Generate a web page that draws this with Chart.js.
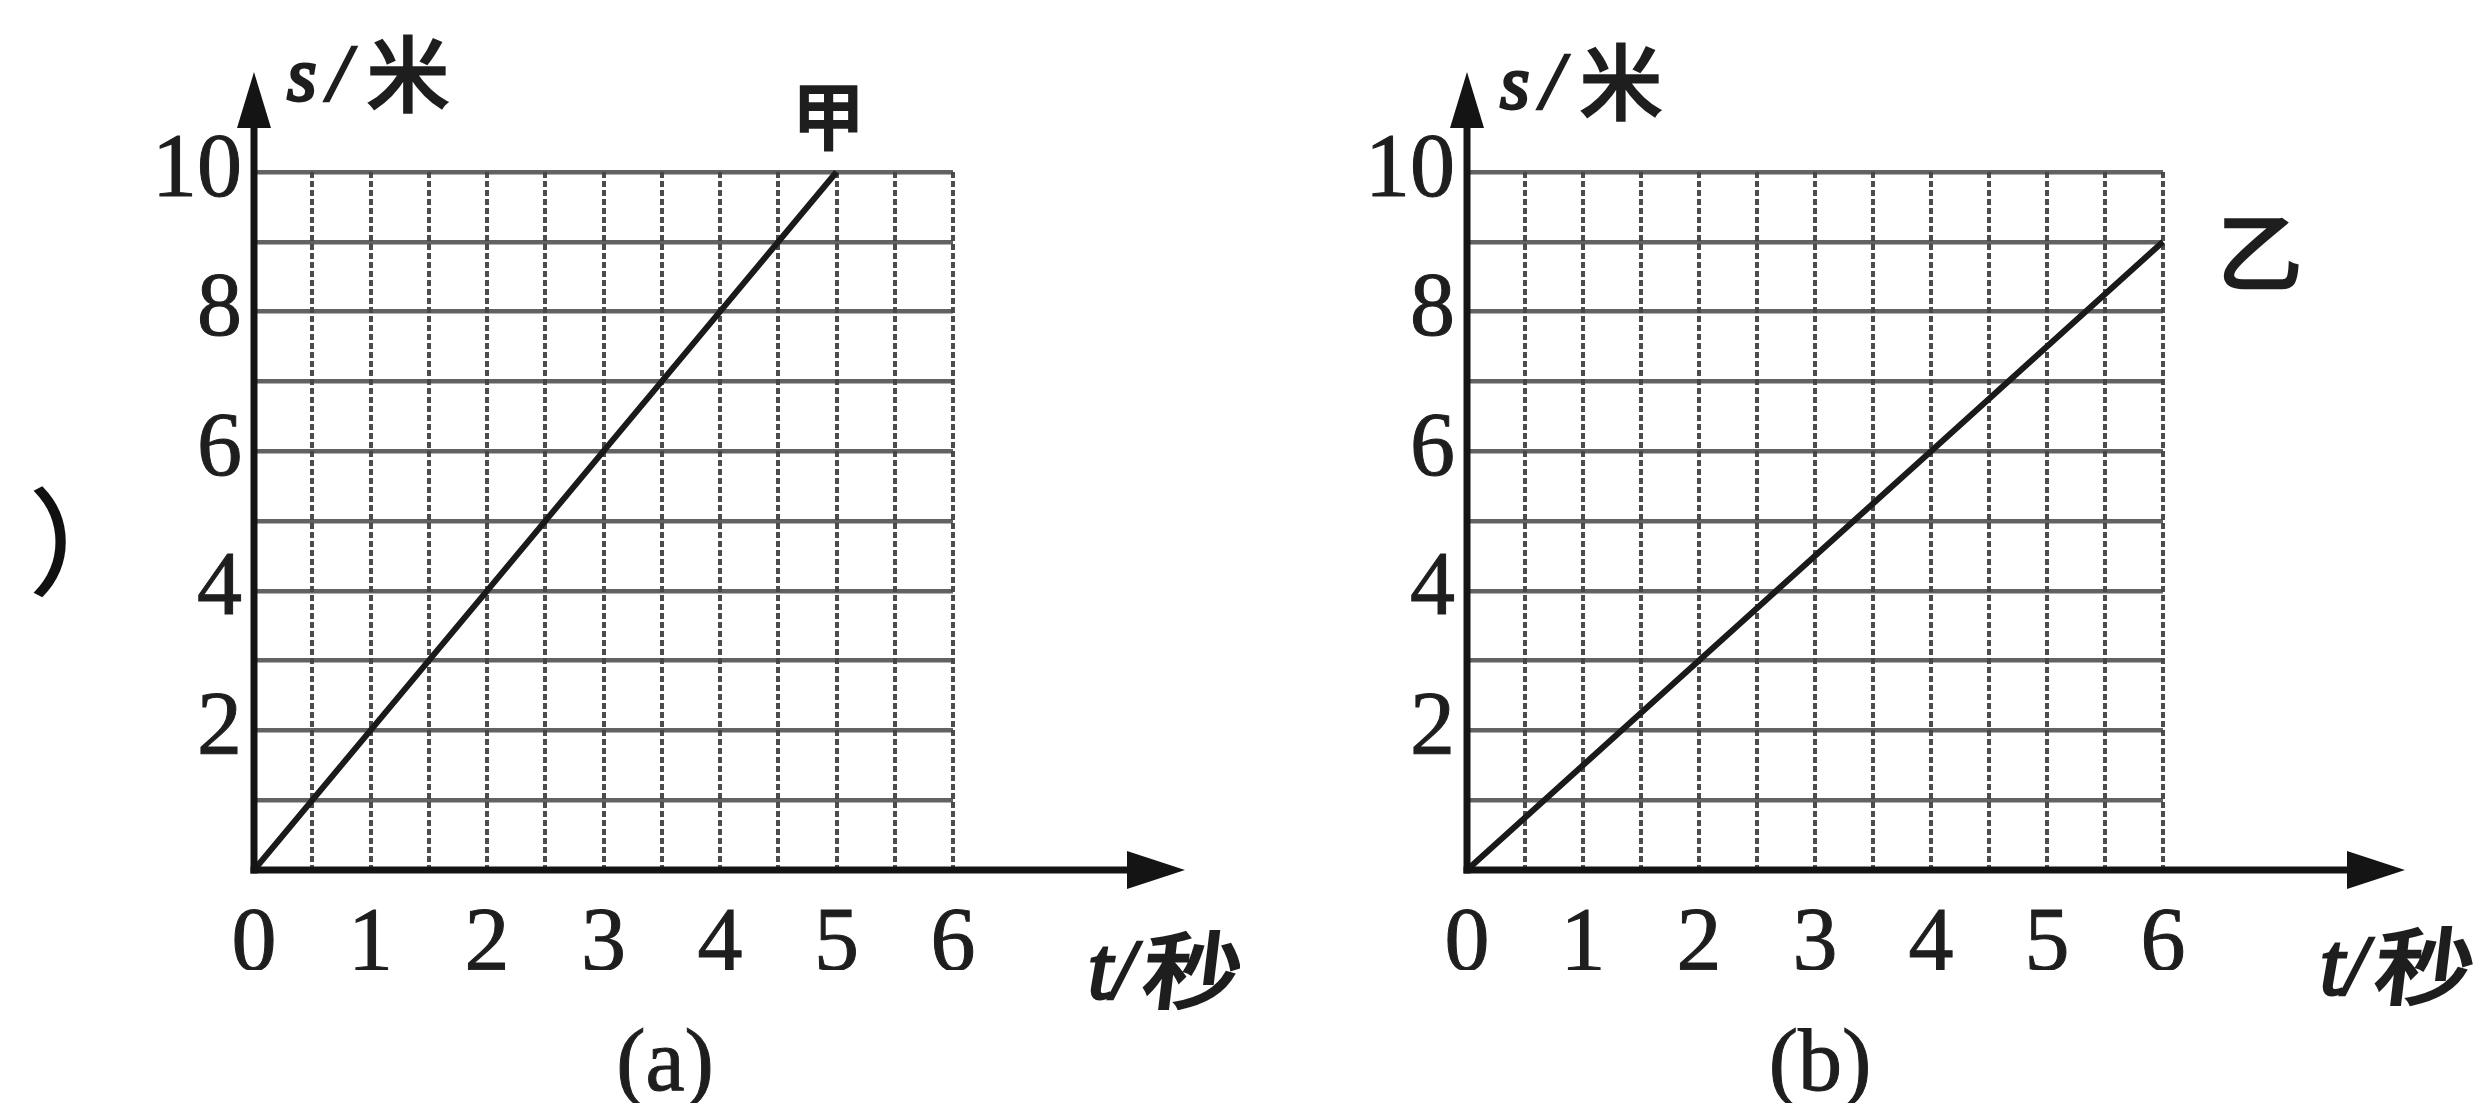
<!DOCTYPE html>
<html><head><meta charset="utf-8">
<script src="https://cdn.jsdelivr.net/npm/chart.js@4.4.1/dist/chart.umd.min.js"></script>
<style>
html,body{margin:0;padding:0;background:#fff;width:2477px;height:1103px;overflow:hidden;}
canvas{position:absolute;top:0;}
#ca{left:0}
#cb{left:1240px}
</style></head><body>
<canvas id="ca" width="1240" height="1103"></canvas>
<canvas id="cb" width="1237" height="1103"></canvas>
<script>
// ---- data ----
const timeA = [0, 1, 2, 3, 4, 5];          // t (秒) for 甲
const distA = [0, 2, 4, 6, 8, 10];         // s (米) for 甲
const timeB = [0, 2, 4, 6];                // t (秒) for 乙
const distB = [0, 3, 6, 9];                // s (米) for 乙
const xTickLabels = ['0', '1', '2', '3', '4', '5', '6'];
const yTickLabels = ['2', '4', '6', '8', '10'];
const xRange = [0, 6];
const yRange = [0, 10];
const xGridStep = 0.5;
const yGridStep = 1;
const seriesNames = ['甲', '乙'];
const captions = ['(a)', '(b)'];
const yTitleParts = ['s', '/', '米'];
const xTitleParts = ['t', '/', '秒'];

const INK = '#1e1e1e';
const SERIF = "'Liberation Serif', 'DejaVu Serif', serif";
const CJK = "'Noto Sans CJK SC', sans-serif";

function heavyText(ctx, txt, x, y, w) {
  ctx.lineWidth = w;
  ctx.lineJoin = 'miter';
  ctx.strokeText(txt, x, y);
  ctx.fillText(txt, x, y);
}

const decor = {
  id: 'decor',
  afterDraw(chart, args, o) {
    const ctx = chart.ctx;
    const xs = chart.scales.x, ys = chart.scales.y;
    const ca = chart.chartArea;
    const x0 = xs.getPixelForValue(xRange[0]);
    const y0 = ys.getPixelForValue(yRange[0]);
    ctx.save();
    ctx.strokeStyle = '#141414';
    ctx.fillStyle = '#141414';
    ctx.lineWidth = 7;
    ctx.lineCap = 'butt';
    // y axis with arrow
    const yTip = ca.top - o.yArrowAbove;
    ctx.beginPath(); ctx.moveTo(x0, y0 + 3.5); ctx.lineTo(x0, yTip + 40); ctx.stroke();
    ctx.beginPath(); ctx.moveTo(x0, yTip); ctx.lineTo(x0 - 17, yTip + 56); ctx.lineTo(x0 + 17, yTip + 56); ctx.closePath(); ctx.fill();
    // x axis with arrow
    const xTip = ca.right + o.xArrowBeyond;
    ctx.beginPath(); ctx.moveTo(x0 - 3.5, y0); ctx.lineTo(xTip - 40, y0); ctx.stroke();
    ctx.beginPath(); ctx.moveTo(xTip, y0); ctx.lineTo(xTip - 58, y0 - 19); ctx.lineTo(xTip - 58, y0 + 19); ctx.closePath(); ctx.fill();

    ctx.fillStyle = INK;
    ctx.strokeStyle = INK;
    ctx.textBaseline = 'alphabetic';
    ctx.textAlign = 'left';
    // y axis title  s/米
    const yb = o.yTitleBaseline;
    ctx.font = 'italic 76px ' + SERIF;
    heavyText(ctx, yTitleParts[0], x0 + 33, yb, 3);
    ctx.font = 'italic 80px ' + SERIF;
    heavyText(ctx, yTitleParts[1], x0 + 74, yb, 2.5);
    ctx.font = '82px ' + CJK;
    heavyText(ctx, yTitleParts[2], x0 + 113, yb + 5, 3);
    // x axis title  t/秒
    const xt = o.xTitleX, xb = o.xTitleBaseline;
    ctx.font = 'italic 88px ' + SERIF;
    heavyText(ctx, xTitleParts[0], xt, xb, 3);
    ctx.font = 'italic 84px ' + SERIF;
    heavyText(ctx, xTitleParts[1], xt + 24, xb, 2.5);
    ctx.save();
    ctx.translate(xt + 52, xb + 4);
    ctx.transform(1.18, 0, -0.12, 1, 0, 0);
    ctx.font = '84px ' + CJK;
    heavyText(ctx, xTitleParts[2], 0, 0, 3);
    ctx.restore();
    // series label
    const last = o.labelAt;
    const px = xs.getPixelForValue(last[0]) + o.labelDx;
    const py = ys.getPixelForValue(last[1]) + o.labelDy;
    ctx.font = o.labelSize + 'px ' + CJK;
    ctx.textAlign = 'center';
    ctx.textBaseline = 'middle';
    heavyText(ctx, o.label, px, py, 3.5);
    // caption
    ctx.font = '88px ' + SERIF;
    ctx.textBaseline = 'alphabetic';
    heavyText(ctx, o.caption, o.captionX, 1090, 1);
    // stray bracket at the far left of the scan
    if (o.bracket) {
      ctx.font = '114px ' + CJK;
      ctx.textAlign = 'left';
      ctx.textBaseline = 'middle';
      ctx.fillStyle = '#111';
      ctx.strokeStyle = '#111';
      heavyText(ctx, o.bracket, o.bracketX, 542, 2);
    }
    ctx.restore();
  }
};

function makeChart(id, times, dists, pad, deco) {
  const pts = times.map((t, i) => ({x: t, y: dists[i]}));
  const tickFont = {family: SERIF, size: 90};
  return new Chart(document.getElementById(id), {
    type: 'line',
    data: {
      datasets: [{
        data: pts,
        borderColor: '#1a1a1a',
        borderWidth: 6,
        pointRadius: 0,
        tension: 0,
        clip: false
      }]
    },
    options: {
      responsive: false,
      animation: false,
      devicePixelRatio: 1,
      layout: {padding: pad},
      plugins: {legend: {display: false}, tooltip: {enabled: false}, decor: deco},
      scales: {
        x: {
          type: 'linear',
          min: xRange[0], max: xRange[1],
          afterFit: (s) => { s.height = 100; },
          grid: {color: 'rgba(45,45,45,0.85)', lineWidth: 4, drawTicks: false},
          border: {display: false, dash: [6, 3]},
          ticks: {
            stepSize: xGridStep, autoSkip: false, maxRotation: 0, padding: 22,
            color: INK, font: tickFont, textStrokeColor: INK, textStrokeWidth: 1,
            callback: (v) => xTickLabels.includes(String(v)) ? String(v) : ''
          }
        },
        y: {
          type: 'linear',
          min: yRange[0], max: yRange[1],
          afterFit: (s) => { s.width = 100; },
          grid: {color: 'rgba(70,70,70,0.85)', lineWidth: 4.5, drawTicks: false},
          border: {display: false},
          ticks: {
            stepSize: yGridStep, autoSkip: false, padding: 12,
            color: INK, font: tickFont, textStrokeColor: INK, textStrokeWidth: 1,
            callback: (v) => yTickLabels.includes(String(v)) ? String(v) : ''
          }
        }
      }
    },
    plugins: [decor]
  });
}

makeChart('ca', timeA, distA,
  {left: 154, right: 287, top: 172, bottom: 133},
  {yArrowAbove: 100, xArrowBeyond: 232, yTitleBaseline: 100, xTitleX: 1088, xTitleBaseline: 998,
   label: seriesNames[0], labelAt: [timeA[timeA.length - 1], distA[distA.length - 1]], labelDx: -8, labelDy: -56, labelSize: 72,
   caption: captions[0], captionX: 665, bracket: '）', bracketX: 30});

makeChart('cb', timeB, distB,
  {left: 127, right: 314, top: 172, bottom: 133},
  {yArrowAbove: 100, xArrowBeyond: 242, yTitleBaseline: 108, xTitleX: 1080, xTitleBaseline: 994,
   label: seriesNames[1], labelAt: [timeB[timeB.length - 1], distB[distB.length - 1]], labelDx: 97, labelDy: 10, labelSize: 84,
   caption: captions[1], captionX: 580, bracket: null});
</script>
</body></html>
